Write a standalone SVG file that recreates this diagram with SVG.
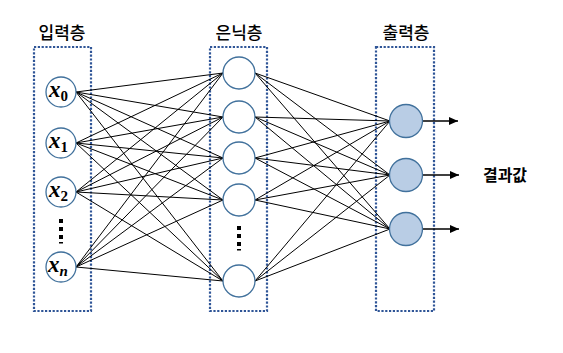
<svg xmlns="http://www.w3.org/2000/svg" width="563" height="353" viewBox="0 0 563 353">
<defs>
<style>
.box{fill:none;stroke:#2F5597;stroke-width:2.2;stroke-dasharray:2.2 1.6}
.n{fill:#fff;stroke:#41719C;stroke-width:1.3}
.o{fill:#B9CDE5;stroke:#41719C;stroke-width:1.3}
.e{stroke:#000;stroke-width:1;fill:none}
.a{stroke:#000;stroke-width:1.3;fill:none}
.lbl{font-family:"Noto Sans CJK KR","Noto Sans",sans-serif;font-size:17px;font-weight:500;fill:#000;text-anchor:middle}
.x{font-family:"Liberation Serif","DejaVu Serif",serif;font-style:italic;font-weight:bold;font-size:23px;fill:#000}
.sub{font-family:"Liberation Serif","DejaVu Serif",serif;font-style:normal;font-weight:bold;font-size:15px}
.subi{font-style:italic}
.d{fill:#000}
</style>
<marker id="arr" markerWidth="10" markerHeight="10" refX="9" refY="5" orient="auto" markerUnits="userSpaceOnUse">
<path d="M0,1 L9,5 L0,9 z" fill="#000"/>
</marker>
</defs>
<rect width="563" height="353" fill="#fff"/>
<g id="boxes">
<rect class="box" x="34" y="47" width="57" height="264"/>
<rect class="box" x="210" y="47" width="57" height="264"/>
<rect class="box" x="376" y="47" width="58" height="264"/>
</g>
<g id="labels">
<text class="lbl" x="62" y="39">입력층</text>
<text class="lbl" x="239" y="39">은닉층</text>
<text class="lbl" x="406" y="39">출력층</text>
<text class="lbl" x="505" y="181" style="font-weight:bold;font-size:16px">결과값</text>
</g>
<g id="connectors">
<path class="e" d="M76,92 L223,73 M76,92 L223,117 M76,92 L223,158 M76,92 L223,200 M76,92 L223,281
M76,143 L223,73 M76,143 L223,117 M76,143 L223,158 M76,143 L223,200 M76,143 L223,281
M76,192 L223,73 M76,192 L223,117 M76,192 L223,158 M76,192 L223,200 M76,192 L223,281
M76,267 L223,73 M76,267 L223,117 M76,267 L223,158 M76,267 L223,200 M76,267 L223,281"/>
<path class="e" d="M255,73 L390,121 M255,73 L390,175 M255,73 L390,229
M255,117 L390,121 M255,117 L390,175 M255,117 L390,229
M255,158 L390,121 M255,158 L390,175 M255,158 L390,229
M255,200 L390,121 M255,200 L390,175 M255,200 L390,229
M255,281 L390,121 M255,281 L390,175 M255,281 L390,229"/>
<line class="a" x1="422" y1="121" x2="458" y2="121" marker-end="url(#arr)"/>
<line class="a" x1="423" y1="175" x2="459" y2="175" marker-end="url(#arr)"/>
<line class="a" x1="423" y1="229" x2="459" y2="229" marker-end="url(#arr)"/>
</g>
<g id="in0"><circle class="n" cx="61" cy="92" r="15"/><text class="x" x="49" y="97">x<tspan class="sub" dy="4">0</tspan></text></g>
<g id="in1"><circle class="n" cx="61" cy="143" r="15"/><text class="x" x="49" y="148">x<tspan class="sub" dy="4">1</tspan></text></g>
<g id="in2"><circle class="n" cx="61" cy="192" r="15"/><text class="x" x="49" y="197">x<tspan class="sub" dy="4">2</tspan></text></g>
<g id="indots"><rect class="d" x="59" y="219" width="4" height="4"/><rect class="d" x="59" y="227" width="4" height="4"/><rect class="d" x="59" y="235" width="4" height="4"/><rect class="d" x="59" y="242" width="4" height="1.5"/></g>
<g id="inN"><circle class="n" cx="61" cy="267" r="15"/><text class="x" x="48" y="272">x<tspan class="sub subi" dy="4">n</tspan></text></g>
<g id="h0"><circle class="n" cx="239" cy="73" r="16"/></g>
<g id="h1"><circle class="n" cx="239" cy="117" r="16"/></g>
<g id="h2"><circle class="n" cx="239" cy="158" r="16"/></g>
<g id="h3"><circle class="n" cx="239" cy="200" r="16"/></g>
<g id="hdots"><rect class="d" x="237" y="226" width="4" height="4"/><rect class="d" x="237" y="234" width="4" height="4"/><rect class="d" x="237" y="242" width="4" height="4"/><rect class="d" x="237" y="249" width="4" height="1.5"/></g>
<g id="h4"><circle class="n" cx="239" cy="281" r="16"/></g>
<g id="o0"><circle class="o" cx="406" cy="121" r="16.5"/></g>
<g id="o1"><circle class="o" cx="406" cy="175" r="16.5"/></g>
<g id="o2"><circle class="o" cx="406" cy="229" r="16.5"/></g>
</svg>
